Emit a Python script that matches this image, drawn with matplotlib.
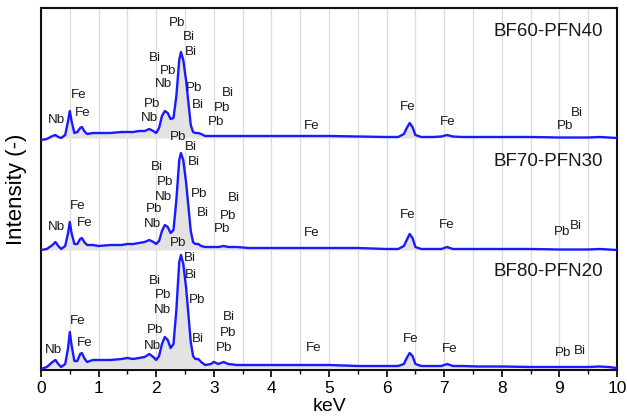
import numpy as np
import matplotlib
matplotlib.use("Agg")
import matplotlib.pyplot as plt
from matplotlib.ticker import MultipleLocator

plt.rcParams['font.family'] = ['Liberation Sans', 'DejaVu Sans']

# ---------------- data ----------------
energy = [0, 0.1, 0.2, 0.25, 0.3, 0.35, 0.42, 0.47, 0.5, 0.53, 0.58, 0.63, 0.68, 0.71, 0.75,
          0.8, 0.9, 1.0, 1.2, 1.4, 1.5, 1.6, 1.7, 1.8, 1.88, 1.95, 2.0, 2.05, 2.1, 2.15, 2.2,
          2.25, 2.3, 2.35, 2.4, 2.43, 2.47, 2.52, 2.56, 2.6, 2.64, 2.68, 2.73, 2.78, 2.85,
          2.95, 3.0, 3.08, 3.17, 3.25, 3.4, 3.6, 4.0, 4.5, 5.0, 5.5, 6.0, 6.2, 6.3, 6.35,
          6.4, 6.45, 6.5, 6.6, 6.8, 6.95, 7.05, 7.15, 7.3, 7.6, 8.0, 8.5, 9.0, 9.5, 9.7,
          9.85, 10.0]

bf80_pfn20 = [1, 3, 8, 10, 6, 3, 6, 22, 38, 25, 9, 9, 16, 17, 12,
              8, 10, 10, 10, 11, 12, 11, 12, 13, 16, 13, 10, 14, 26, 33, 30,
              22, 26, 60, 108, 115, 106, 82, 55, 28, 14, 11, 11, 8, 5,
              6, 8, 6, 8, 6, 5, 5, 5, 5, 5, 4, 4, 4, 6, 12,
              17, 14, 6, 4, 4, 4, 6, 4, 4, 3.5, 3.5, 3, 3, 3, 3.5,
              3, 2]

bf70_pfn30 = [5, 6, 10, 13, 9, 6, 9, 22, 33, 22, 11, 11, 16, 17, 13,
              10, 10, 9, 10, 10, 11, 11, 12, 13, 15, 13, 11, 14, 24, 30, 28,
              22, 25, 55, 95, 102, 95, 72, 48, 24, 13, 11, 11, 9, 8,
              8, 8, 8, 9, 8, 8, 7, 7, 7, 7, 7, 6, 6, 9, 15,
              21, 17, 8, 6, 6, 6, 8, 6, 6, 6, 6, 6, 5.5, 5.5, 6,
              5.5, 5]

bf60_pfn40 = [6, 7, 10, 11, 9, 8, 11, 25, 35, 25, 13, 14, 18, 19, 15,
              12, 13, 13, 13, 14, 14, 14, 15, 15, 17, 15, 13, 18, 30, 35, 33,
              27, 28, 50, 86, 94, 86, 65, 43, 21, 14, 13, 13, 12, 10,
              10, 10, 10, 10, 10, 10, 10, 10, 10, 10, 9.5, 9, 9, 12, 18,
              23, 19, 11, 9, 9, 9.5, 11, 9.5, 9, 9, 9, 9, 8.5, 8.5, 9,
              8.5, 8]

sample_names = ['BF80-PFN20', 'BF70-PFN30', 'BF60-PFN40']
offsets = [0, 115, 224]

# element labels: (text, keV, height above the spectrum baseline)
labels_bf80 = [('Nb', 0.21, 20), ('Fe', 0.64, 49), ('Fe', 0.75, 27),
               ('Bi', 1.98, 89), ('Pb', 2.12, 75), ('Nb', 2.11, 60), ('Pb', 1.98, 40), ('Nb', 1.93, 24),
               ('Pb', 2.38, 127), ('Bi', 2.58, 112), ('Bi', 2.61, 95), ('Pb', 2.71, 70), ('Bi', 2.73, 31),
               ('Bi', 3.27, 53), ('Pb', 3.24, 37), ('Pb', 3.17, 22),
               ('Fe', 4.73, 22), ('Fe', 6.41, 31), ('Fe', 7.1, 21), ('Pb', 9.07, 17), ('Bi', 9.36, 19)]
labels_bf70 = [('Nb', 0.26, 28), ('Fe', 0.64, 49), ('Fe', 0.76, 32),
               ('Bi', 2.01, 88), ('Pb', 2.16, 73), ('Nb', 2.12, 58), ('Pb', 1.97, 46), ('Nb', 1.94, 31),
               ('Pb', 2.38, 118), ('Bi', 2.6, 108), ('Bi', 2.66, 93), ('Pb', 2.75, 61), ('Bi', 2.81, 42),
               ('Bi', 3.34, 57), ('Pb', 3.25, 39), ('Pb', 3.15, 26),
               ('Fe', 4.7, 22), ('Fe', 6.37, 40), ('Fe', 7.05, 30), ('Pb', 9.05, 23), ('Bi', 9.28, 29)]
labels_bf60 = [('Nb', 0.26, 26), ('Fe', 0.66, 51), ('Fe', 0.72, 33),
               ('Bi', 1.98, 88), ('Pb', 2.2, 75), ('Nb', 2.12, 62), ('Pb', 1.92, 42), ('Nb', 1.89, 28),
               ('Pb', 2.37, 123), ('Bi', 2.56, 109), ('Bi', 2.6, 94), ('Pb', 2.66, 58), ('Bi', 2.73, 41),
               ('Bi', 3.25, 53), ('Pb', 3.14, 38), ('Pb', 3.04, 24),
               ('Fe', 4.7, 20), ('Fe', 6.37, 39), ('Fe', 7.06, 24), ('Pb', 9.09, 20), ('Bi', 9.3, 33)]

spectra = [bf80_pfn20, bf70_pfn30, bf60_pfn40]
label_sets = [labels_bf80, labels_bf70, labels_bf60]
name_heights = [98, 93, 114]

# ---------------- plot ----------------
fig = plt.figure(figsize=(6.27, 4.19), dpi=100)
ax = fig.add_axes([41/627, 1-370/419, 576/627, 362/419])

x = np.array(energy)
for spec, off, labs, name, nh in zip(spectra, offsets, label_sets, sample_names, name_heights):
    y = np.array(spec, dtype=float)
    floor = off + y[-1]
    ax.fill_between(x, y + off, floor, where=(y + off) >= floor, interpolate=True,
                    color='#e3e3e3', lw=0, zorder=1)
    ax.plot(x, y + off, color='#1a1aff', lw=1.7, zorder=3)
    for t, ex, h in labs:
        ax.text(ex, off + h, t, fontsize=9.6, ha='center', va='center', color='#1a1a1a', zorder=4)
    ax.text(9.76, off + nh, name, fontsize=13.5, ha='right', va='center', color='#1a1a1a', zorder=4)

ax.set_xlim(0, 10)
ax.set_ylim(0, 362)
ax.xaxis.set_major_locator(MultipleLocator(1))
ax.xaxis.set_minor_locator(MultipleLocator(0.5))
ax.grid(axis='x', which='both', color='#dcdcdc', lw=0.9, zorder=0)
ax.set_axisbelow(True)
ax.set_yticks([])
ax.tick_params(axis='x', which='major', direction='out', length=5, width=1.2, labelsize=12.5, pad=3)
ax.tick_params(axis='x', which='minor', direction='out', length=3, width=1.0)
for s in ax.spines.values():
    s.set_linewidth(1.5)
    s.set_color('#111111')
ax.set_xlabel('keV', fontsize=14, labelpad=1)
ax.set_ylabel('Intensity (-)', fontsize=16, labelpad=10)

fig.savefig('out.png', dpi=100)
